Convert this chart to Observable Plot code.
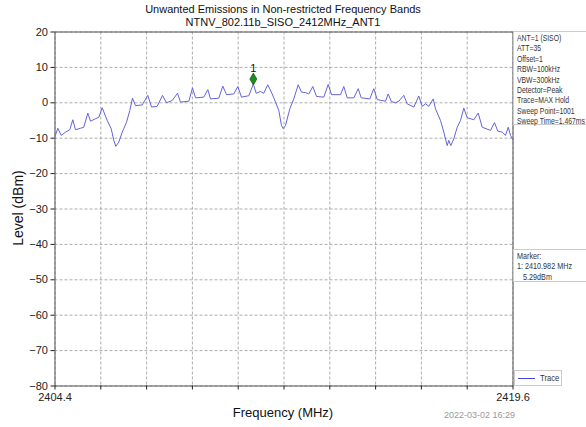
<!DOCTYPE html>
<html><head><meta charset="utf-8">
<script src="https://cdn.jsdelivr.net/npm/d3@7"></script>
<script src="https://cdn.jsdelivr.net/npm/@observablehq/plot@0.6"></script>
<style>
body{margin:0;background:#fff;font-family:"Liberation Sans",Arial,sans-serif;}
#wrap{position:relative;width:586px;height:427px;overflow:hidden;}
.abs{position:absolute;white-space:nowrap;color:#222;}
.box{position:absolute;white-space:nowrap;border:1px solid #ccc;border-right:none;background:#fff;font-size:9px;line-height:10.4px;color:#333;padding:1px 3px;box-sizing:border-box;}
.narrow{display:inline-block;transform:scaleX(0.76);transform-origin:left top;}
</style></head><body>
<div id="wrap"></div>
<script>
const titleLines = ["Unwanted Emissions in Non-restricted Frequency Bands", "NTNV_802.11b_SISO_2412MHz_ANT1"];
const infoLines = ["ANT=1 (SISO)","ATT=35","Offset=1","RBW=100kHz","VBW=300kHz","Detector=Peak","Trace=MAX Hold","Sweep Point=1001","Sweep Time=1.467ms"];
const markerLines = ["Marker:","1: 2410.982 MHz","   5.29dBm"];
const xLabel = "Frequency (MHz)";
const yLabel = "Level (dBm)";
const dateText = "2022-03-02 16:29";
const legendLabel = "Trace";
const xDomain = [2404.4, 2419.6];
const yDomain = [-80, 20];
const xTicks = [2404.4,2405.92,2407.44,2408.96,2410.48,2412.0,2413.52,2415.04,2416.56,2418.08,2419.6];
const xTickLabels = ["2404.4","","","","","","","","","","2419.6"];
const yTicks = [20,10,0,-10,-20,-30,-40,-50,-60,-70,-80];
const freq = [2404.400,2404.493,2404.606,2404.748,2404.891,2404.991,2405.080,2405.246,2405.356,2405.489,2405.578,2405.744,2405.854,2405.966,2406.132,2406.265,2406.351,2406.418,2406.517,2406.630,2406.773,2406.882,2406.972,2407.072,2407.294,2407.480,2407.603,2407.792,2407.968,2408.100,2408.290,2408.466,2408.565,2408.841,2408.963,2409.063,2409.338,2409.471,2409.561,2409.836,2409.969,2410.092,2410.334,2410.467,2410.590,2410.832,2410.982,2411.077,2411.220,2411.330,2411.462,2411.608,2411.718,2411.828,2411.917,2411.974,2412.050,2412.193,2412.325,2412.471,2412.581,2412.714,2412.823,2412.956,2413.079,2413.321,2413.467,2413.577,2413.875,2413.985,2414.098,2414.317,2414.463,2414.562,2414.848,2414.980,2415.093,2415.369,2415.458,2415.558,2415.701,2415.810,2415.976,2416.089,2416.308,2416.474,2416.587,2416.696,2416.806,2416.952,2417.028,2417.194,2417.304,2417.416,2417.469,2417.536,2417.635,2417.748,2417.858,2417.967,2418.080,2418.299,2418.445,2418.578,2418.853,2418.986,2419.096,2419.242,2419.351,2419.441,2419.517,2419.600];
const level = [-9.5,-7.2,-9.2,-8.3,-7.6,-4.8,-7.6,-7.2,-6.9,-2.9,-5.2,-4.5,-4.1,-1.4,-5.0,-7.3,-10.6,-12.3,-11.1,-8.3,-5.5,-2.2,1.3,-0.8,-0.6,2.1,-1.2,-1.0,2.1,0.0,0.65,2.7,0.2,0.45,4.2,1.4,1.6,3.7,1.1,1.3,4.7,2.3,2.5,4.6,1.6,2.0,5.29,2.7,3.2,2.7,5.1,2.5,0.2,-2.2,-6.4,-7.3,-6.4,-1.7,1.1,5.1,3.0,2.9,2.5,4.6,1.8,1.6,5.2,2.3,2.3,4.6,1.4,1.4,4.0,1.4,1.1,4.0,0.9,0.45,2.5,0.4,0.0,0.45,2.1,-0.3,-1.2,1.9,-1.0,-0.3,-1.0,1.1,-1.7,-5.0,-8.3,-12.1,-10.6,-12.1,-10.2,-6.9,-5.0,-1.5,-4.2,-4.8,-2.9,-6.9,-7.8,-5.6,-8.0,-8.3,-9.2,-6.9,-9.2,-10.5];
const markerFreq = [2410.982];
const markerLevel = [5.29];
const markerName = ["1"];

const trace = freq.map((f,i)=>({f, v: level[i]}));
const markers = markerFreq.map((f,i)=>({f, v: markerLevel[i], n: markerName[i]}));

const chart = Plot.plot({
  width: 586, height: 427,
  marginTop: 31.5, marginBottom: 41.5, marginLeft: 54.5, marginRight: 73.5,
  style: {fontFamily: '"Liberation Sans", Arial, sans-serif', fontSize: "11px", color: "#222", background: "transparent"},
  x: {domain: xDomain},
  y: {domain: yDomain},
  marks: [
    Plot.gridX(xTicks, {stroke: "#999", strokeOpacity: 0.8, strokeDasharray: "3,2"}),
    Plot.gridY(yTicks, {stroke: "#999", strokeOpacity: 0.8, strokeDasharray: "3,2"}),
    Plot.frame({stroke: "#555"}),
    Plot.axisX(xTicks, {tickSize: 4, tickPadding: 3, tickFormat: (d,i)=>xTickLabels[i], label: null, fontSize: 11}),
    Plot.axisY(yTicks, {tickSize: 4, tickPadding: 3, label: null, fontSize: 11}),
    Plot.line(trace, {x: "f", y: "v", stroke: "#6464dc", strokeWidth: 1}),
    Plot.dot(markers, {x: "f", y: "v", symbol: "diamond", r: 3.6, fill: "#1e8c1e", stroke: "#0d5c0d", strokeWidth: 0.8, dy: -5}),
    Plot.text(markers, {x: "f", y: "v", text: "n", dy: -16, fontSize: 11, fill: "#111"})
  ]
});
const wrap = document.getElementById("wrap");
wrap.appendChild(chart);
chart.style.position = "absolute"; chart.style.left = "0"; chart.style.top = "0";

function addDiv(html, css, cls="abs"){ const d=document.createElement("div"); d.className=cls; d.innerHTML=html; Object.assign(d.style, css); wrap.appendChild(d); return d; }
const nar = lines => '<span class="narrow">' + lines.map(s=>s.replace(/ /g,"&nbsp;")).join("<br>") + '</span>';
addDiv(titleLines.join("<br>"), {left:"54px", width:"458px", top:"3px", textAlign:"center", fontSize:"11px", lineHeight:"12.5px", color:"#111"});
addDiv(xLabel, {left:"54px", width:"458px", top:"405px", textAlign:"center", fontSize:"13px", color:"#111"});
addDiv(yLabel, {left:"18px", top:"208px", fontSize:"14px", color:"#111", transform:"translate(-50%,-50%) rotate(-90deg)"});
addDiv(dateText, {left:"444px", top:"410px", fontSize:"9px", color:"#999"});
addDiv(nar(infoLines), {left:"513px", top:"31px", width:"73px", height:"94px", paddingLeft:"3px", fontSize:"9px", lineHeight:"10.4px"}, "box");
addDiv(nar(markerLines), {left:"513px", top:"249px", width:"73px", height:"33px", fontSize:"9.5px"}, "box");
addDiv('<span style="display:inline-block;width:17px;height:0;border-top:1.3px solid #4545e0;vertical-align:middle;margin-right:5px"></span><span style="display:inline-block;transform:scaleX(0.85);transform-origin:left center">' + legendLabel + '</span>', {left:"514px", top:"370px", width:"48px", height:"16px", lineHeight:"13px", paddingLeft:"3px", borderRight:"1px solid #ccc"}, "box");
</script>
</body></html>
